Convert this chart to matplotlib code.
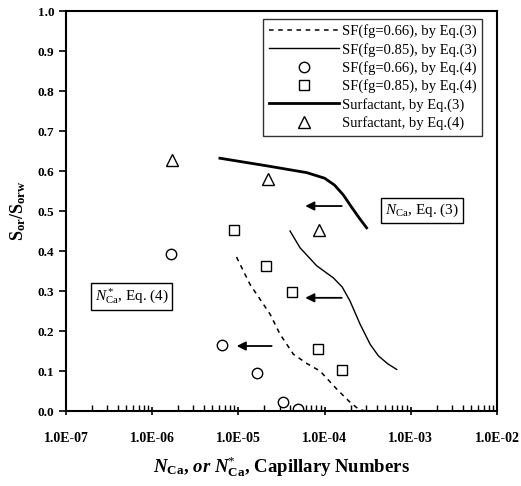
import matplotlib
matplotlib.use('Agg')
import matplotlib.pyplot as plt
from matplotlib.ticker import FuncFormatter, LogLocator
import numpy as np

plt.rcParams['font.family'] = ['Liberation Serif', 'DejaVu Serif']
plt.rcParams['mathtext.fontset'] = 'custom'
plt.rcParams['mathtext.rm'] = 'Liberation Serif'
plt.rcParams['mathtext.it'] = 'Liberation Serif:italic'
plt.rcParams['mathtext.bf'] = 'Liberation Serif:bold'
plt.rcParams['mathtext.bfit'] = 'Liberation Serif:bold:italic'

# curves by Eq.(3)
sf66_x = [9.5e-6, 1.36e-5, 2.33e-5, 3.04e-5, 4.34e-5, 6.3e-5, 8.85e-5, 1.38e-4, 1.97e-4, 2.5e-4, 3.0e-4]
sf66_y = [0.385, 0.317, 0.242, 0.192, 0.142, 0.118, 0.100, 0.055, 0.022, 0.004, 0.0]

sf85_x = [3.97e-5, 5.19e-5, 8.1e-5, 1.26e-4, 1.6e-4, 1.97e-4, 2.58e-4, 3.37e-4, 4.2e-4, 5.4e-4, 6.85e-4]
sf85_y = [0.450, 0.408, 0.363, 0.333, 0.310, 0.275, 0.217, 0.167, 0.138, 0.118, 0.104]

surf_x = [6.1e-6, 2.13e-5, 6.2e-5, 1.0e-4, 1.3e-4, 1.65e-4, 2.05e-4, 2.57e-4, 3.07e-4]
surf_y = [0.632, 0.613, 0.596, 0.582, 0.565, 0.540, 0.510, 0.480, 0.458]

# points by Eq.(4)
c66_x = [1.65e-6, 6.45e-6, 1.63e-5, 3.27e-5, 4.96e-5]
c66_y = [0.392, 0.166, 0.096, 0.023, 0.004]

s85_x = [8.97e-6, 2.09e-5, 4.22e-5, 8.3e-5, 1.6e-4]
s85_y = [0.452, 0.362, 0.298, 0.155, 0.103]

tri_x = [1.71e-6, 2.22e-5, 8.5e-5]
tri_y = [0.627, 0.581, 0.453]

# arrows (start, end)
arrows = [((1.58e-4, 0.5125), (5.96e-5, 0.5125)),
          ((1.58e-4, 0.283), (5.96e-5, 0.283)),
          ((2.43e-5, 0.1625), (9.55e-6, 0.1625))]

fig = plt.figure(figsize=(5.21, 4.86), dpi=100)
ax = fig.add_axes([0.1267, 0.1543, 0.8273, 0.8230])

ax.plot(sf66_x, sf66_y, color='black', lw=1.1, linestyle=(0, (3, 3)),
        label='SF(fg=0.66), by Eq.(3)')
ax.plot(sf85_x, sf85_y, color='black', lw=1.0,
        label='SF(fg=0.85), by Eq.(3)')
ax.plot(c66_x, c66_y, 'o', mfc='white', mec='black', ms=7.5, mew=1.0,
        label='SF(fg=0.66), by Eq.(4)')
ax.plot(s85_x, s85_y, 's', mfc='white', mec='black', ms=7.5, mew=1.0,
        label='SF(fg=0.85), by Eq.(4)')
ax.plot(surf_x, surf_y, color='black', lw=2.0,
        label='Surfactant, by Eq.(3)')
ax.plot(tri_x, tri_y, '^', mfc='white', mec='black', ms=8, mew=1.0,
        label='Surfactant, by Eq.(4)')

for (x0, y0), (x1, y1) in arrows:
    ax.annotate('', xy=(x1, y1), xytext=(x0, y0),
                arrowprops=dict(arrowstyle='-|>', color='black', lw=1.3,
                                mutation_scale=13, shrinkA=0, shrinkB=0))

box = dict(boxstyle='square,pad=0.25', fc='white', ec='black', lw=1.0)
ax.text(1.35e-3, 0.5025, r'$N_{\rm Ca}$, Eq. (3)', fontsize=11,
        ha='center', va='center', bbox=box)
ax.text(5.75e-7, 0.286, r'$N^*_{\rm Ca}$, Eq. (4)', fontsize=11,
        ha='center', va='center', bbox=box)

ax.set_xscale('log')
ax.set_xlim(1e-7, 1e-2)
ax.set_ylim(0, 1.0)
ax.set_yticks(np.arange(0, 1.01, 0.1))
ax.yaxis.set_major_formatter(FuncFormatter(lambda v, p: '%.1f' % v))
ax.xaxis.set_major_locator(LogLocator(base=10, numticks=10))
ax.xaxis.set_minor_locator(LogLocator(base=10, subs=np.arange(2, 10), numticks=20))
ax.xaxis.set_major_formatter(FuncFormatter(lambda v, p: '1.0E-%02d' % (-int(round(np.log10(v))))))

ax.tick_params(axis='x', which='major', direction='inout', length=6, width=1.2,
               pad=12, labelsize=10)
ax.tick_params(axis='x', which='minor', direction='in', length=4, width=1.0)
ax.tick_params(axis='y', which='major', direction='out', length=5, width=1.2,
               labelsize=9.5)
for lab in ax.get_xticklabels() + ax.get_yticklabels():
    lab.set_fontweight('bold')
for s in ax.spines.values():
    s.set_linewidth(1.5)

ax.set_ylabel(r'$\mathbf{S_{or}/S_{orw}}$', fontsize=13, labelpad=7)
ax.set_xlabel(r'$\mathbfit{N}_{\mathbf{Ca}}$, $\mathbfit{or}$ $\mathbfit{N}^{*}_{\mathbf{Ca}}$, Capillary Numbers',
              fontsize=13.5, fontweight='bold', labelpad=7)

leg = ax.legend(loc='upper right', bbox_to_anchor=(0.966, 0.981), borderaxespad=0,
                fontsize=10.5, frameon=True, fancybox=False, handlelength=4.8,
                handletextpad=0.2, labelspacing=0.3, borderpad=0.4)
leg.get_frame().set_edgecolor('black')
leg.get_frame().set_linewidth(1.0)

fig.savefig('out.png', dpi=100)
